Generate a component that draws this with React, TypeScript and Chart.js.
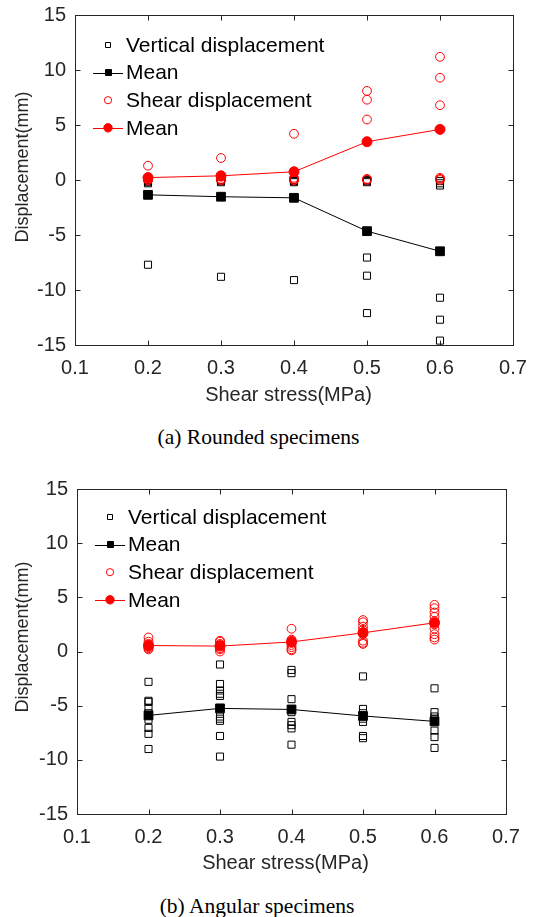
import React, { useEffect, useRef } from "react";
import { Chart, registerables } from "chart.js";

Chart.register(...registerables);

// ---------------- data ----------------
const stressLevels = [0.2, 0.3, 0.4, 0.5, 0.6];
const xTickValues = [0.1, 0.2, 0.3, 0.4, 0.5, 0.6, 0.7];
const yTickValues = [-15, -10, -5, 0, 5, 10, 15];

// (a) Rounded specimens
const roundedVertical = [
  [-7.7, -0.3, -0.2, -0.1, 0, 0],
  [-8.8, -0.2, -0.1, 0, 0, 0],
  [-9.1, -0.2, -0.1, -0.1, 0, 0],
  [-12.1, -8.7, -7.05, -0.2, -0.1, 0],
  [-14.6, -12.7, -10.7, -0.5, -0.3, -0.1],
];
const roundedVerticalMean = [-1.35, -1.52, -1.62, -4.65, -6.48];
const roundedShear = [
  [1.3, 0.2, 0.1, 0, 0, 0],
  [2.0, 0.3, 0.1, 0, 0, 0],
  [4.2, 0.2, 0.1, 0, 0, 0],
  [8.1, 7.3, 5.5, 0.1, 0.05, 0],
  [11.2, 9.3, 6.8, 0.2, 0.1, 0],
];
const roundedShearMean = [0.22, 0.38, 0.75, 3.48, 4.6];

// (b) Angular specimens
const angularVertical = [
  [-2.8, -4.55, -4.65, -5.2, -5.7, -6.3, -7.05, -7.6, -9.0],
  [-1.2, -3.0, -3.6, -3.9, -4.1, -6.0, -6.2, -6.4, -7.8, -9.7],
  [-1.7, -2.0, -4.4, -5.6, -6.5, -6.8, -7.1, -8.6],
  [-2.3, -5.3, -5.7, -6.2, -6.5, -7.8, -8.0],
  [-3.4, -5.6, -6.0, -6.2, -7.3, -7.9, -8.9],
];
const angularVerticalMean = [-5.9, -5.25, -5.35, -5.95, -6.45];
const angularShear = [
  [1.3, 0.9, 0.7, 0.6, 0.5, 0.4, 0.3, 0.2],
  [1.0, 0.9, 0.7, 0.6, 0.5, 0.3, 0.2, 0.0],
  [2.1, 1.1, 1.0, 0.8, 0.6, 0.4, 0.2, 0.1],
  [2.9, 2.7, 2.3, 2.0, 1.8, 1.6, 1.0, 0.8, 0.7],
  [4.3, 4.0, 3.6, 3.2, 2.8, 2.5, 2.1, 1.6, 1.3, 1.1],
];
const angularShearMean = [0.55, 0.5, 0.88, 1.72, 2.65];

const legendLabels = ["Vertical displacement", "Mean", "Shear displacement", "Mean"];
const xTitle = "Shear stress(MPa)";
const yTitle = "Displacement(mm)";

// ---------------- helpers ----------------
const SANS = '"Liberation Sans", Arial, Helvetica, sans-serif';
const SERIF = '"Liberation Serif", "Times New Roman", serif';
const AXIS_COLOR = "#262626";
const RED = "#ff0000";

function samplePoints(groups: number[][]) {
  const pts: { x: number; y: number }[] = [];
  groups.forEach((g, i) => g.forEach((v) => pts.push({ x: stressLevels[i], y: v })));
  return pts;
}
function meanPoints(means: number[]) {
  return means.map((v, i) => ({ x: stressLevels[i], y: v }));
}

const framePlugin = {
  id: "frame",
  beforeDatasetsDraw(chart: any) {
    const { ctx, chartArea: a } = chart;
    const xs = chart.scales.x;
    const ys = chart.scales.y;
    const L = Math.round(a.left) + 0.5;
    const R = Math.round(a.right) + 0.5;
    const T = Math.round(a.top) + 0.5;
    const B = Math.round(a.bottom) + 0.5;
    ctx.save();
    ctx.strokeStyle = AXIS_COLOR;
    ctx.lineWidth = 1;
    ctx.strokeRect(L, T, R - L, B - T);
    ctx.beginPath();
    xs.ticks.forEach((t: any) => {
      const px = Math.round(xs.getPixelForValue(t.value)) + 0.5;
      ctx.moveTo(px, B);
      ctx.lineTo(px, B - 5);
      ctx.moveTo(px, T);
      ctx.lineTo(px, T + 5);
    });
    ys.ticks.forEach((t: any) => {
      const py = Math.round(ys.getPixelForValue(t.value)) + 0.5;
      ctx.moveTo(L, py);
      ctx.lineTo(L + 5, py);
      ctx.moveTo(R, py);
      ctx.lineTo(R - 5, py);
    });
    ctx.stroke();
    ctx.restore();
  },
};

const decorPlugin = {
  id: "decor",
  afterDraw(chart: any, _args: any, opts: any) {
    const { ctx, chartArea: a } = chart;
    ctx.save();
    // y title
    ctx.fillStyle = AXIS_COLOR;
    ctx.font = `${opts.yTitleSize}px ${SANS}`;
    ctx.textAlign = "center";
    ctx.textBaseline = "middle";
    ctx.translate(opts.yTitleX, opts.yTitleY);
    ctx.rotate(-Math.PI / 2);
    ctx.fillText(yTitle, 0, 0);
    ctx.setTransform(1, 0, 0, 1, 0, 0);
    // x title
    ctx.font = `20px ${SANS}`;
    ctx.fillText(xTitle, opts.xTitleX, a.bottom + opts.xTitleOffset);
    // legend
    const datasets = chart.data.datasets;
    const rowH = 27.6;
    datasets.forEach((ds: any, i: number) => {
      const y = a.top + opts.legendTop + i * rowH;
      const mx = a.left + 33;
      if (ds.showLine) {
        ctx.beginPath();
        ctx.strokeStyle = ds.borderColor;
        ctx.lineWidth = 1;
        ctx.moveTo(a.left + 18, Math.round(y) + 0.5);
        ctx.lineTo(a.left + 48, Math.round(y) + 0.5);
        ctx.stroke();
      }
      ctx.beginPath();
      ctx.lineWidth = 1;
      ctx.strokeStyle = ds.pointBorderColor;
      ctx.fillStyle = ds.pointBackgroundColor;
      if (ds.pointStyle === "rect") {
        const s = ds.showLine ? 7 : 6;
        ctx.rect(Math.round(mx - s / 2) + 0.5, Math.round(y - s / 2) + 0.5, s - 1, s - 1);
      } else {
        const r = ds.showLine ? 4.2 : 3.6;
        ctx.arc(mx, y, r, 0, Math.PI * 2);
      }
      if (ds.pointBackgroundColor !== "rgba(0,0,0,0)") ctx.fill();
      ctx.stroke();
      ctx.fillStyle = "#000";
      ctx.font = `21px ${SANS}`;
      ctx.textAlign = "left";
      ctx.textBaseline = "middle";
      ctx.fillText(ds.label, a.left + 51, y + 1);
    });
    ctx.restore();
  },
};

function buildConfig(
  vertical: number[][],
  vMean: number[],
  shear: number[][],
  sMean: number[],
  p: any
) {
  return {
    type: "scatter" as const,
    data: {
      datasets: [
        {
          label: legendLabels[0],
          data: samplePoints(vertical),
          pointStyle: "rect",
          pointRadius: 5,
          pointBorderWidth: 1,
          pointBorderColor: "#000",
          pointBackgroundColor: "rgba(0,0,0,0)",
          showLine: false,
          order: 4,
        },
        {
          label: legendLabels[1],
          data: meanPoints(vMean),
          pointStyle: "rect",
          pointRadius: 6.2,
          pointBorderWidth: 1,
          pointBorderColor: "#000",
          pointBackgroundColor: "#000",
          borderColor: "#000",
          borderWidth: 1,
          showLine: true,
          tension: 0,
          order: 3,
        },
        {
          label: legendLabels[2],
          data: samplePoints(shear),
          pointStyle: "circle",
          pointRadius: 4.4,
          pointBorderWidth: 1,
          pointBorderColor: RED,
          pointBackgroundColor: "rgba(0,0,0,0)",
          showLine: false,
          order: 2,
        },
        {
          label: legendLabels[3],
          data: meanPoints(sMean),
          pointStyle: "circle",
          pointRadius: 5,
          pointBorderWidth: 1,
          pointBorderColor: RED,
          pointBackgroundColor: RED,
          borderColor: RED,
          borderWidth: 1,
          showLine: true,
          tension: 0,
          order: 1,
        },
      ],
    },
    options: {
      animation: false,
      responsive: false,
      maintainAspectRatio: false,
      events: [],
      layout: { padding: { top: p.padTop, right: p.padRight, left: 0, bottom: 0 } },
      plugins: {
        legend: { display: false },
        tooltip: { enabled: false },
        decor: p.decor,
      },
      scales: {
        x: {
          type: "linear",
          min: xTickValues[0],
          max: xTickValues[xTickValues.length - 1],
          afterBuildTicks: (s: any) => {
            s.ticks = xTickValues.map((v) => ({ value: v }));
          },
          afterFit: (s: any) => {
            s.height = p.xHeight;
            s.paddingLeft = 0;
            s.paddingRight = 0;
          },
          ticks: {
            color: AXIS_COLOR,
            font: { family: SANS, size: 20 },
            padding: p.xTickPad,
            maxRotation: 0,
            autoSkip: false,
            callback: (v: any) => Number(v).toFixed(1),
          },
          grid: { display: false, drawTicks: false },
          border: { display: false },
        },
        y: {
          type: "linear",
          min: yTickValues[0],
          max: yTickValues[yTickValues.length - 1],
          afterBuildTicks: (s: any) => {
            s.ticks = yTickValues.map((v) => ({ value: v }));
          },
          afterFit: (s: any) => {
            s.width = p.yWidth;
            s.paddingTop = 0;
            s.paddingBottom = 0;
          },
          ticks: {
            color: AXIS_COLOR,
            font: { family: SANS, size: 20 },
            padding: 9,
            autoSkip: false,
            callback: (v: any) => String(v),
          },
          grid: { display: false, drawTicks: false },
          border: { display: false },
        },
      },
    },
    plugins: [framePlugin, decorPlugin],
  };
}

function Panel(props: { config: any; top: number; height: number }) {
  const ref = useRef<HTMLCanvasElement>(null);
  useEffect(() => {
    if (!ref.current) return;
    const chart = new Chart(ref.current, props.config);
    return () => chart.destroy();
  }, []);
  return (
    <canvas
      ref={ref}
      width={535}
      height={props.height}
      style={{ position: "absolute", left: 0, top: props.top, width: 535, height: props.height }}
    />
  );
}

const captionStyle = (top: number, cx: number): React.CSSProperties => ({
  position: "absolute",
  top,
  left: cx,
  transform: "translateX(-50%)",
  whiteSpace: "nowrap",
  fontFamily: SERIF,
  fontSize: "21.5px",
  lineHeight: "26px",
  color: "#000",
});

export default function App() {
  const topConfig = buildConfig(roundedVertical, roundedVerticalMean, roundedShear, roundedShearMean, {
    padTop: 15,
    padRight: 22,
    yWidth: 75,
    xHeight: 75,
    xTickPad: 11,
    decor: { yTitleX: 23, yTitleY: 167, yTitleSize: 18, xTitleX: 288.5, xTitleOffset: 50, legendTop: 30 },
  });
  const bottomConfig = buildConfig(angularVertical, angularVerticalMean, angularShear, angularShearMean, {
    padTop: 19,
    padRight: 29,
    yWidth: 77,
    xHeight: 76,
    xTickPad: 11,
    decor: { yTitleX: 23, yTitleY: 167, yTitleSize: 18, xTitleX: 285.5, xTitleOffset: 49, legendTop: 28 },
  });
  return (
    <div style={{ position: "absolute", left: 0, top: 0, width: 535, height: 917, background: "#fff", overflow: "hidden" }}>
      <Panel config={topConfig} top={0} height={420} />
      <div style={captionStyle(423.5, 258.5)}>(a) Rounded specimens</div>
      <Panel config={bottomConfig} top={470} height={420} />
      <div style={captionStyle(893, 257)}>(b) Angular specimens</div>
    </div>
  );
}
